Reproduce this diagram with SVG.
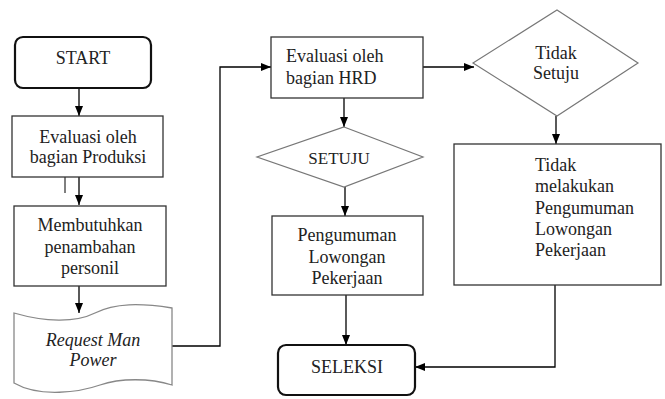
<svg xmlns="http://www.w3.org/2000/svg" width="665" height="399" viewBox="0 0 665 399">
<defs>
<marker id="arr" markerWidth="10" markerHeight="10" refX="10" refY="5" orient="auto" markerUnits="userSpaceOnUse">
<path d="M0,1 L10,5 L0,9 Z" fill="#000"/>
</marker>
<style>
.box{fill:#fff;stroke:#333;stroke-width:1.3}
.term{fill:#fff;stroke:#111;stroke-width:2.2}
.dia{fill:#fff;stroke:#777;stroke-width:1.2}
.doc{fill:#fff;stroke:#888;stroke-width:1.3}
.con{fill:none;stroke:#000;stroke-width:1.3}
</style>
</defs>
<rect width="665" height="399" fill="#fff"/>
<g id="connectors">
<line class="con" x1="79" y1="88" x2="79" y2="116" marker-end="url(#arr)"/>
<line class="con" x1="79" y1="177" x2="79" y2="205" marker-end="url(#arr)"/>
<line class="con" x1="65" y1="170" x2="65" y2="193" style="stroke-width:1"/>
<line class="con" x1="79" y1="286" x2="79" y2="313" marker-end="url(#arr)"/>
<polyline class="con" points="172,346 220,346 220,67 271,67" marker-end="url(#arr)"/>
<line class="con" x1="344" y1="98" x2="344" y2="127" marker-end="url(#arr)"/>
<line class="con" x1="423" y1="67" x2="474" y2="67" marker-end="url(#arr)"/>
<line class="con" x1="345" y1="187" x2="345" y2="216" marker-end="url(#arr)"/>
<line class="con" x1="556" y1="116" x2="556" y2="144" marker-end="url(#arr)"/>
<line class="con" x1="346" y1="295" x2="346" y2="345" marker-end="url(#arr)"/>
<polyline class="con" points="555,285 555,367 415,367" marker-end="url(#arr)"/>
</g>
<g id="start">
<rect class="term" x="15" y="37" width="136" height="51" rx="8"/>
<text font-family="Liberation Serif" font-size="18" fill="#222" text-anchor="middle" x="83" y="64">START</text>
</g>
<g id="eval-produksi">
<rect class="box" x="12" y="116" width="151" height="61"/>
<text font-family="Liberation Serif" font-size="18" fill="#222" text-anchor="middle" x="88" y="143">Evaluasi oleh</text>
<text font-family="Liberation Serif" font-size="18" fill="#222" text-anchor="middle" x="88" y="163">bagian Produksi</text>
</g>
<g id="membutuhkan">
<rect class="box" x="14" y="206" width="152" height="80"/>
<text font-family="Liberation Serif" font-size="18" fill="#222" text-anchor="middle" x="90" y="231">Membutuhkan</text>
<text font-family="Liberation Serif" font-size="18" fill="#222" text-anchor="middle" x="90" y="253">penambahan</text>
<text font-family="Liberation Serif" font-size="18" fill="#222" text-anchor="middle" x="90" y="274">personil</text>
</g>
<g id="request">
<path class="doc" d="M14,313 C45,322 75,323 95,313 S140,303 172,308 L172,385 C150,378 120,378 100,385 S40,398 14,383 Z"/>
<text font-family="Liberation Serif" font-size="18" fill="#222" font-style="italic" text-anchor="middle" x="93" y="346">Request Man</text>
<text font-family="Liberation Serif" font-size="18" fill="#222" font-style="italic" text-anchor="middle" x="93" y="366">Power</text>
</g>
<g id="eval-hrd">
<rect class="box" x="271" y="37" width="152" height="61"/>
<text font-family="Liberation Serif" font-size="18" fill="#222" x="286" y="62">Evaluasi oleh</text>
<text font-family="Liberation Serif" font-size="18" fill="#222" x="286" y="84">bagian HRD</text>
</g>
<g id="setuju">
<polygon class="dia" points="344,127 423,157 344,187 257,157"/>
<text font-family="Liberation Serif" font-size="17" fill="#222" text-anchor="middle" x="339" y="164">SETUJU</text>
</g>
<g id="tidak-setuju">
<polygon class="dia" points="557,10 638,63 557,116 473,63"/>
<text font-family="Liberation Serif" font-size="18" fill="#222" text-anchor="middle" x="556" y="59">Tidak</text>
<text font-family="Liberation Serif" font-size="18" fill="#222" text-anchor="middle" x="556" y="79">Setuju</text>
</g>
<g id="pengumuman">
<rect class="box" x="272" y="216" width="151" height="79"/>
<text font-family="Liberation Serif" font-size="18" fill="#222" text-anchor="middle" x="347" y="241">Pengumuman</text>
<text font-family="Liberation Serif" font-size="18" fill="#222" text-anchor="middle" x="347" y="263">Lowongan</text>
<text font-family="Liberation Serif" font-size="18" fill="#222" text-anchor="middle" x="347" y="284">Pekerjaan</text>
</g>
<g id="tidak-melakukan">
<rect class="box" x="454" y="144" width="207" height="141"/>
<text font-family="Liberation Serif" font-size="18" fill="#222" x="535" y="171">Tidak</text>
<text font-family="Liberation Serif" font-size="18" fill="#222" x="535" y="192">melakukan</text>
<text font-family="Liberation Serif" font-size="18" fill="#222" x="535" y="214">Pengumuman</text>
<text font-family="Liberation Serif" font-size="18" fill="#222" x="535" y="235">Lowongan</text>
<text font-family="Liberation Serif" font-size="18" fill="#222" x="535" y="256">Pekerjaan</text>
</g>
<g id="seleksi">
<rect class="term" x="278" y="345" width="137" height="50" rx="8"/>
<text font-family="Liberation Serif" font-size="18" fill="#222" text-anchor="middle" x="347" y="373">SELEKSI</text>
</g>
</svg>
